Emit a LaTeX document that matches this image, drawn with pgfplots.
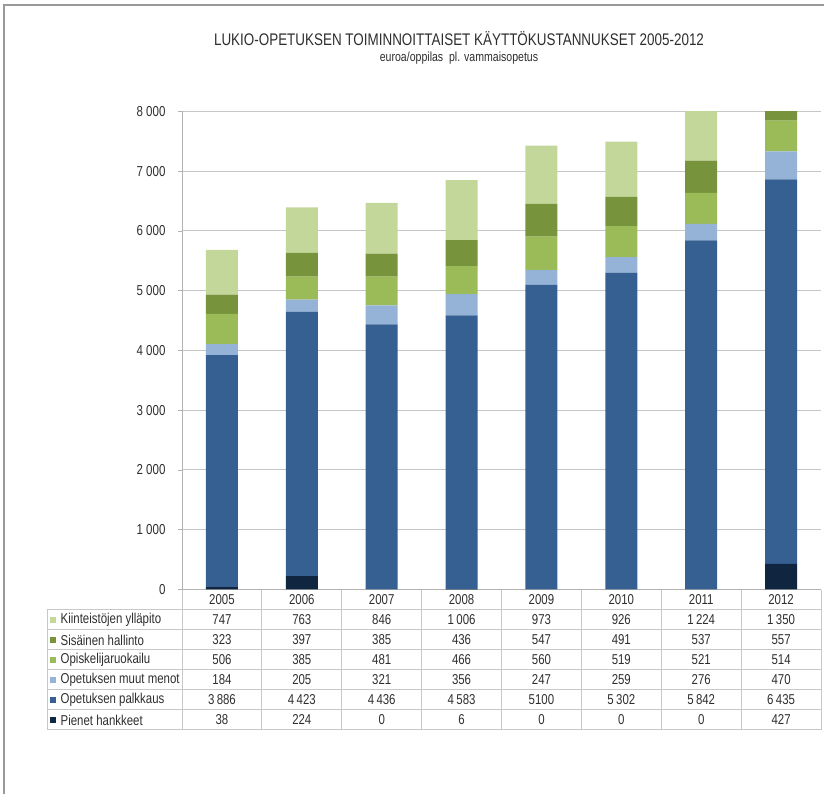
\documentclass[border=0pt]{standalone}
\usepackage{pgfplots}
\pgfplotsset{compat=1.18}
\usepackage{fontspec}
\setmainfont{Liberation Sans}[FakeStretch=0.8]
\definecolor{cKii}{HTML}{C4D79B}
\definecolor{cSis}{HTML}{77933C}
\definecolor{cOpi}{HTML}{9BBB59}
\definecolor{cMuu}{HTML}{95B3D7}
\definecolor{cPal}{HTML}{366092}
\definecolor{cPie}{HTML}{10253F}
\definecolor{tline}{HTML}{C8C8C8}
\definecolor{txt}{HTML}{2E2E2E}
\begin{document}
\begin{tikzpicture}[x=1pt,y=1pt]
\useasboundingbox (0,0) rectangle (824,794);
% frame
\draw[gray!80, line width=1.3pt] (4,0) -- (4,789) -- (824,789);
% titles
\node[text=txt, font=\fontsize{16.8}{18}\selectfont] at (459,755.5) {LUKIO-OPETUKSEN TOIMINNOITTAISET KÄYTTÖKUSTANNUKSET 2005-2012};
\node[text=txt, font=\fontsize{13.2}{15}\selectfont] at (459,735.5) {euroa/oppilas\ \ pl. vammaisopetus};
\begin{axis}[
  at={(182pt,204.5pt)}, anchor=south west,
  scale only axis, width=639pt, height=478pt,
  xmin=-0.5, xmax=7.5, ymin=0, ymax=8000,
  ybar stacked, bar width=0.4,
  axis y line=left, axis x line=bottom,
  axis line style={draw=gray!60, line width=0.8pt, -},
  xtick=\empty,
  ytick={0,1000,...,8000},
  ymajorgrids, grid style={gray!45, line width=1pt},
  major tick length=4pt, tick align=outside, tick style={gray!60, line width=0.8pt},
  yticklabel style={font=\fontsize{14.4}{14}\selectfont, text=txt, anchor=east, xshift=-9pt},
  /pgf/number format/.cd, 1000 sep={\ }, assume math mode=true,
]
\addplot[fill=cPie, draw=none] coordinates {(0,38) (1,224) (2,0) (3,6) (4,0) (5,0) (6,0) (7,427)};
\addplot[fill=cPal, draw=none] coordinates {(0,3886) (1,4423) (2,4436) (3,4583) (4,5100) (5,5302) (6,5842) (7,6435)};
\addplot[fill=cMuu, draw=none] coordinates {(0,184) (1,205) (2,321) (3,356) (4,247) (5,259) (6,276) (7,470)};
\addplot[fill=cOpi, draw=none] coordinates {(0,506) (1,385) (2,481) (3,466) (4,560) (5,519) (6,521) (7,514)};
\addplot[fill=cSis, draw=none] coordinates {(0,323) (1,397) (2,385) (3,436) (4,547) (5,491) (6,537) (7,557)};
\addplot[fill=cKii, draw=none] coordinates {(0,747) (1,763) (2,846) (3,1006) (4,973) (5,926) (6,1224) (7,1350)};
\end{axis}
% data table
\def\colw{79.875}
\begin{scope}[line width=1pt, draw=tline]
\foreach \yy in {184,164,...,64} {\draw[tline] (47,\yy) -- (821,\yy);}
\draw[tline] (47,184) -- (47,64);
\foreach \k in {0,...,8} {\draw[tline] ({182+\k*\colw},204) -- ({182+\k*\colw},64);}
\end{scope}
\begin{scope}[every node/.style={text=txt, font=\fontsize{14.3}{16}\selectfont, inner sep=0pt}]
\foreach \yr [count=\i from 0] in {2005,2006,2007,2008,2009,2010,2011,2012}
  {\node at ({182+(\i+0.5)*\colw},194) {\yr};}
\foreach \lab/\col [count=\r from 0] in {Kiinteistöjen ylläpito/cKii, Sisäinen hallinto/cSis, Opiskelijaruokailu/cOpi, Opetuksen muut menot/cMuu, Opetuksen palkkaus/cPal, Pienet hankkeet/cPie}
  {\fill[\col] (49.5,{174-20*\r-3}) rectangle ++(6,6);
   \node[anchor=west] at (60.5,{174-20*\r}) {\lab};}
\foreach \a/\b/\c/\d/\e/\f/\g/\h [count=\r from 0] in {
  747/763/846/1\,006/973/926/1\,224/1\,350,
  323/397/385/436/547/491/537/557,
  506/385/481/466/560/519/521/514,
  184/205/321/356/247/259/276/470,
  3\,886/4\,423/4\,436/4\,583/5100/5\,302/5\,842/6\,435,
  38/224/0/6/0/0/0/427}
  {\foreach \v [count=\i from 0] in {\a,\b,\c,\d,\e,\f,\g,\h}
     {\node at ({182+(\i+0.5)*\colw},{174-20*\r}) {\v};}}
\end{scope}
\end{tikzpicture}
\end{document}
